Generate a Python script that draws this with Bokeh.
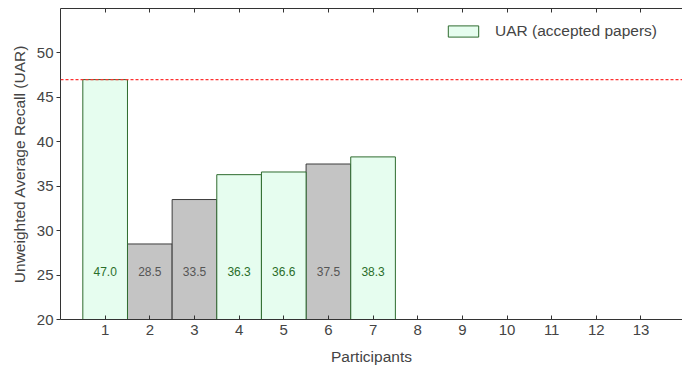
from bokeh.plotting import figure
from bokeh.models import ColumnDataSource, FixedTicker, LinearAxis, Span, Legend, LegendItem, Range1d
from bokeh.embed import file_html
from bokeh.resources import INLINE
from bokeh.core.properties import value

participants = [1, 2, 3, 4, 5, 6, 7]
uar = [47.0, 28.5, 33.5, 36.3, 36.6, 37.5, 38.3]
accepted = [True, False, False, True, True, False, True]
baseline = 47.0
x_ticks = list(range(1, 14))
y_ticks = [20, 25, 30, 35, 40, 45, 50]
label_y = 25.4

FONT = "Liberation Sans"
GREEN_FILL = "#e6fdef"
GREEN_LINE = "#2e6b2e"
GREEN_TEXT = "#2a6e2a"
GRAY_FILL = "#c4c4c4"
GRAY_LINE = "#3c3c3c"
GRAY_TEXT = "#555555"

acc = dict(x=[p for p, a in zip(participants, accepted) if a],
           top=[u for u, a in zip(uar, accepted) if a])
rej = dict(x=[p for p, a in zip(participants, accepted) if not a],
           top=[u for u, a in zip(uar, accepted) if not a])
lab = dict(x=participants, y=[label_y] * len(participants),
           t=["%.1f" % u for u in uar],
           c=[GREEN_TEXT if a else GRAY_TEXT for a in accepted])

p = figure(width=682, height=368, output_backend="svg", toolbar_location=None,
           x_range=Range1d(0, 13.93), y_range=Range1d(20, 55),
           min_border_left=60, min_border_right=0, min_border_top=8, min_border_bottom=49,
           x_axis_label="Participants", y_axis_label="Unweighted Average Recall (UAR)")
p.outline_line_color = None
p.grid.visible = False
p.background_fill_color = "white"
p.border_fill_color = "white"

r_rej = p.vbar(x="x", top="top", bottom=20, width=1.0, source=ColumnDataSource(rej),
               fill_color=GRAY_FILL, line_color=GRAY_LINE, line_width=1)
r_acc = p.vbar(x="x", top="top", bottom=20, width=1.0, source=ColumnDataSource(acc),
               fill_color=GREEN_FILL, line_color=GREEN_LINE, line_width=1)

p.add_layout(Span(location=baseline, dimension="width", line_color="#ff3030",
                  line_dash="3 2", line_width=1.4))

p.text(x="x", y="y", text="t", text_color="c", source=ColumnDataSource(lab),
       text_align="center", text_baseline="middle", text_font_size="12px",
       text_font=value(FONT))

xa = p.xaxis[0]
xa.ticker = FixedTicker(ticks=x_ticks)
xa.minor_tick_line_color = None
xa.major_tick_in = 4
xa.major_tick_out = 0
xa.major_label_text_font = FONT
xa.major_label_text_font_size = "15px"
xa.major_label_standoff = 5
xa.axis_label_text_font = FONT
xa.axis_label_text_font_size = "15.5px"
xa.axis_label_text_font_style = "normal"
xa.axis_label_standoff = 10
xa.axis_line_color = "#333333"
xa.major_tick_line_color = "#333333"

ya = p.yaxis[0]
ya.ticker = FixedTicker(ticks=y_ticks)
ya.minor_tick_line_color = None
ya.major_tick_in = 0
ya.major_tick_out = 4
ya.major_label_text_font = FONT
ya.major_label_text_font_size = "15px"
ya.major_label_standoff = 3
ya.axis_label_text_font = FONT
ya.axis_label_text_font_size = "15.5px"
ya.axis_label_text_font_style = "normal"
ya.axis_label_standoff = 6
ya.axis_line_color = "#333333"
ya.major_tick_line_color = "#333333"

top = LinearAxis(ticker=FixedTicker(ticks=x_ticks),
                 major_label_overrides={t: "" for t in x_ticks},
                 major_tick_in=4, major_tick_out=0, minor_tick_line_color=None,
                 axis_line_color="#333333", major_tick_line_color="#333333",
                 major_label_standoff=0)
p.add_layout(top, "above")

legend = Legend(items=[LegendItem(label="UAR (accepted papers)", renderers=[r_acc])],
                location=(384, 279), glyph_width=38, glyph_height=14,
                label_text_font=FONT, label_text_font_size="15.5px",
                label_standoff=13, padding=0, margin=0, border_line_color=None,
                background_fill_alpha=0)
p.add_layout(legend, "center")

open("out.html", "w").write(file_html(p, INLINE))
